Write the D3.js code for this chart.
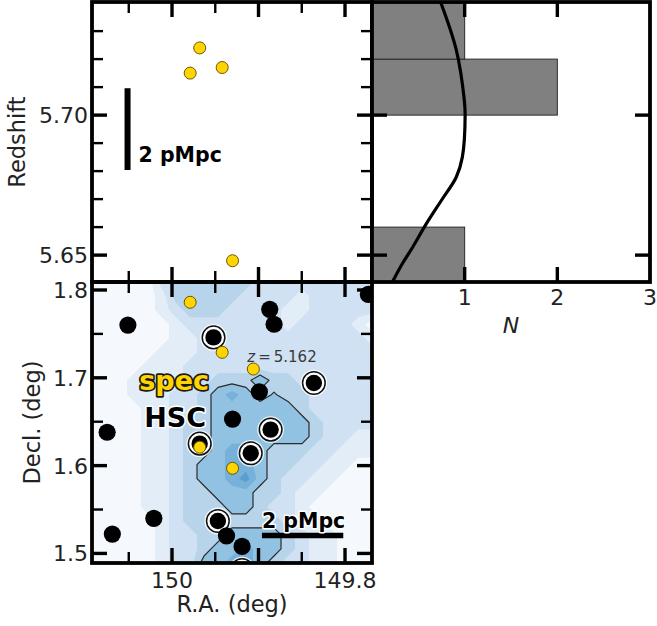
<!DOCTYPE html>
<html>
<head>
<meta charset="utf-8">
<script src="https://cdn.jsdelivr.net/npm/d3@7/dist/d3.min.js"></script>
<style>
  html, body { margin: 0; padding: 0; background: #fff; }
  svg { display: block; }
  text { font-family: "DejaVu Sans", sans-serif; }
</style>
</head>
<body>
<svg id="chart" width="657" height="626"></svg>
<script>
// ---- spectroscopically confirmed LAEs ----
const specRA  = [149.979, 149.968, 149.942, 149.930, 149.906];
const specDec = [1.786, 1.621, 1.729, 1.597, 1.710];
const specZ   = [5.715, 5.724, 5.717, 5.648, 5.162];

// ---- HSC photometric candidates (ring = extra circle marker) ----
const hscRA   = [150.051, 149.952, 149.887, 149.882, 149.773, 149.836, 149.899, 149.930, 149.886,
                 150.075, 149.968, 149.909, 150.021, 150.069, 149.947, 149.937, 149.919, 149.919];
const hscDec  = [1.760, 1.746, 1.778, 1.761, 1.795, 1.694, 1.684, 1.653, 1.641,
                 1.638, 1.625, 1.614, 1.540, 1.522, 1.537, 1.520, 1.508, 1.481];
const hscRing = [0, 1, 0, 0, 0, 1, 0, 0, 1, 0, 1, 1, 0, 0, 1, 0, 0, 1];

// ---- redshift histogram bins and smoothed distribution ----
const zBinEdges = [5.64, 5.66, 5.68, 5.70, 5.72, 5.74];
const curveZ = [5.7404, 5.7232, 5.7054, 5.7000, 5.6850, 5.6779, 5.6696, 5.6614, 5.6529, 5.6471, 5.6404];
const curveN = [0.74, 0.91, 0.996, 1.005, 0.975, 0.91, 0.75, 0.59, 0.44, 0.33, 0.22];

// ---- surface density map (levels on a regular RA/Dec grid, top row = north) ----
const densityRows = [
  [0,0,0,0,0,2,3,3,3,3,3,3,2,2,2,2,2,2,2,2,2],
  [0,0,0,0,0,1,3,3,3,3,3,2,2,2,2,1,2,2,2,2,2],
  [0,0,0,0,0,1,2,3,3,3,2,2,2,2,1,1,2,2,2,2,2],
  [0,0,0,0,0,0,1,2,2,2,2,2,2,2,1,2,2,2,2,1,0],
  [0,0,0,0,0,0,1,1,2,2,2,2,2,2,2,2,2,2,2,2,1],
  [0,0,0,0,0,1,1,1,2,2,2,2,2,2,2,2,2,2,2,2,2],
  [0,0,0,0,1,1,1,2,2,2,2,2,2,2,2,2,2,2,2,2,2],
  [0,0,0,1,1,1,1,2,2,3,3,3,4.4,3,3,2,2,2,2,2,2],
  [0,0,0,1,1,1,2,2,3,4,5,4,3,3.6,3,3,2,2,2,2,2],
  [0,0,0,0,1,1,2,2,3,4,4,4,4,4,4,3,2,2,2,2,2],
  [0,0,0,0,1,1,2,3,3,4,4,4,4,4,4,4,3,2,2,2,2],
  [0,0,0,0,1,1,2,3,3,4,4,4,4,4,4,4,3,2,2,1,1],
  [0,0,0,0,1,1,2,3,3,4,5,5,4,3,3,3,2,2,1,1,1],
  [0,0,0,0,1,1,2,3,4,4,5,5,4,3,3,2,2,1,1,0,0],
  [0,0,0,0,1,1,2,3,4,4,5,6,4,3,2,2,1,1,0,0,0],
  [0,0,0,0,1,1,2,3,3,4,4,4,3,3,2,1,1,0,0,0,0],
  [0,0,0,0,1,1,2,3,3,3,4,4,3,2,2,1,0,0,0,0,0],
  [0,0,0,0,0,1,2,3,3,3,3,3,3,3,2,1,1,0,0,0,0],
  [0,0,0,0,0,1,2,2,3,3,4,4,4,4,3,2,1,1,0,0,0],
  [0,0,0,0,0,1,2,2,3,4,4,5,4,4,3,2,1,1,0,0,0],
  [0,0,0,0,0,1,2,2,4,4,5,5,4,3,2,2,1,1,0,0,0]
];
const densityThresholds = [0.5, 1.5, 2.5, 3.5, 4.5, 5.5];
const levelColors = ["#f5f9fe", "#e2edf8", "#cfe1f2", "#b7d4ea", "#92c2e1", "#77b1d9", "#5b9fd0"];
const outlineLevel = 3.5;

// ---- axis limits and ticks ----
const raLim  = [150.0925, 149.7688];
const decLim = [1.8091, 1.4891];
const zLim   = [5.7404, 5.6404];
const nLim   = [0, 3];
const raMajor = [150.0, 149.9, 149.8], raMinor = [150.05, 149.95, 149.85];
const raLabels = [150.0, 149.8];
const decMajor = [1.5, 1.6, 1.7, 1.8], decMinor = [1.55, 1.65, 1.75];
const zMajor = [5.65, 5.70];
const zMinor = [5.66, 5.67, 5.68, 5.69, 5.71, 5.72, 5.73];
const nMajor = [1, 2], nLabels = [1, 2, 3];

// scale bars (2 proper Mpc)
const barZ = [5.6804, 5.7096], barZRA = 150.0514;
const barRA = [149.896, 149.802], barRADec = 1.5204;

// ---- layout ----
const box = { x0: 92, x1: 372, x2: 650, y0: 2, y1: 282, y2: 563 };
const xRA  = d3.scaleLinear().domain(raLim).range([box.x0, box.x1]);
const yDec = d3.scaleLinear().domain(decLim).range([box.y1, box.y2]);
const yZ   = d3.scaleLinear().domain(zLim).range([box.y0, box.y1]);
const xN   = d3.scaleLinear().domain(nLim).range([box.x1, box.x2]);

const svg = d3.select("#chart");
const defs = svg.append("defs");
function clip(id, x, y, w, h) {
  defs.append("clipPath").attr("id", id).append("rect").attr("x", x).attr("y", y).attr("width", w).attr("height", h);
  return `url(#${id})`;
}
const clipA = clip("clipA", box.x0, box.y0, box.x1 - box.x0, box.y1 - box.y0);
const clipB = clip("clipB", box.x1, box.y0, box.x2 - box.x1, box.y1 - box.y0);
const clipC = clip("clipC", box.x0, box.y1, box.x1 - box.x0, box.y2 - box.y1);

const TICK = "#000";
function vTicks(g, vals, scale, y, dir, len, w) {
  g.selectAll(null).data(vals).join("line")
    .attr("x1", d => scale(d)).attr("x2", d => scale(d))
    .attr("y1", y).attr("y2", y + dir * len)
    .attr("stroke", TICK).attr("stroke-width", w);
}
function hTicks(g, vals, scale, x, dir, len, w) {
  g.selectAll(null).data(vals).join("line")
    .attr("y1", d => scale(d)).attr("y2", d => scale(d))
    .attr("x1", x).attr("x2", x + dir * len)
    .attr("stroke", TICK).attr("stroke-width", w);
}
function frame(x0, y0, x1, y1) {
  svg.append("rect").attr("x", x0).attr("y", y0).attr("width", x1 - x0).attr("height", y1 - y0)
    .attr("fill", "none").attr("stroke", "#000").attr("stroke-width", 3.8);
}
const MAJ = 15, MIN = 11, MAJW = 3.4, MINW = 2.4;

// ================= Panel C: sky map =================
const gC = svg.append("g").attr("clip-path", clipC);
gC.append("rect").attr("x", box.x0).attr("y", box.y1).attr("width", box.x1 - box.x0).attr("height", box.y2 - box.y1)
  .attr("fill", levelColors[0]);

const ny = densityRows.length, nx = densityRows[0].length;
const gRA  = d3.scaleLinear().domain([0.5, nx - 0.5]).range(raLim);
const gDec = d3.scaleLinear().domain([0.5, ny - 0.5]).range(decLim);
const gridProj = d3.geoTransform({ point(x, y) { this.stream.point(xRA(gRA(x)), yDec(gDec(y))); } });
const gridPath = d3.geoPath(gridProj);
const bands = d3.contours().size([nx, ny]).thresholds(densityThresholds)(densityRows.flat());
gC.selectAll(null).data(bands).join("path")
  .attr("d", gridPath)
  .attr("fill", (d, i) => levelColors[i + 1]);
gC.append("path")
  .attr("d", gridPath(bands.find(b => b.value === outlineLevel)))
  .attr("fill", "none").attr("stroke", "#2b2b2b").attr("stroke-width", 1.2).attr("stroke-linejoin", "round");

const hsc = hscRA.map((ra, i) => ({ ra, dec: hscDec[i], ring: hscRing[i] }));
gC.selectAll(null).data(hsc.filter(d => d.ring)).join("circle")
  .attr("cx", d => xRA(d.ra)).attr("cy", d => yDec(d.dec)).attr("r", 12.6)
  .attr("fill", "none").attr("stroke", "#fff").attr("stroke-width", 1.6).attr("opacity", 0.8);
gC.selectAll(null).data(hsc.filter(d => d.ring)).join("circle")
  .attr("cx", d => xRA(d.ra)).attr("cy", d => yDec(d.dec)).attr("r", 11.3)
  .attr("fill", "#fff").attr("stroke", "#111").attr("stroke-width", 1.5);
gC.selectAll(null).data(hsc).join("circle")
  .attr("cx", d => xRA(d.ra)).attr("cy", d => yDec(d.dec)).attr("r", d => d.ring ? 8.2 : 8.6)
  .attr("fill", "#000");

const spec = specRA.map((ra, i) => ({ ra, dec: specDec[i], z: specZ[i] }));
gC.selectAll(null).data(spec).join("circle")
  .attr("cx", d => xRA(d.ra)).attr("cy", d => yDec(d.dec)).attr("r", 6)
  .attr("fill", "#ffd400").attr("stroke", "#6b5700").attr("stroke-width", 1);

// label for the foreground object
const fg = spec.filter(d => d.z < zLim[1]);
const zLab = gC.selectAll(null).data(fg).join("text")
  .attr("x", d => xRA(d.ra) - 6).attr("y", d => yDec(d.dec) - 7)
  .attr("font-family", "DejaVu Serif").attr("font-size", 15).attr("fill", "#3a3a3a");
zLab.append("tspan").attr("font-style", "italic").text("z");
zLab.append("tspan").text(d => "\u2009=\u2009" + d3.format(".3f")(d.z));

// legend words
svg.append("text").attr("x", 209).attr("y", 390).attr("text-anchor", "end")
  .attr("font-size", 27).attr("font-weight", "bold").attr("fill", "#ffd400")
  .attr("stroke", "#1a1a1a").attr("stroke-width", 3.4).attr("paint-order", "stroke").attr("stroke-linejoin", "round")
  .text("spec");
svg.append("text").attr("x", 206).attr("y", 427).attr("text-anchor", "end")
  .attr("font-size", 27).attr("font-weight", "bold").attr("fill", "#000")
  .attr("stroke", "#fff").attr("stroke-width", 3).attr("paint-order", "stroke").attr("stroke-linejoin", "round")
  .text("HSC");

// 2 pMpc scale bar (sky)
svg.append("line").attr("x1", xRA(barRA[0])).attr("x2", xRA(barRA[1]))
  .attr("y1", yDec(barRADec)).attr("y2", yDec(barRADec))
  .attr("stroke", "#000").attr("stroke-width", 5.5);
svg.append("text").attr("x", xRA(barRA[0])).attr("y", yDec(barRADec) - 8)
  .attr("font-size", 20.5).attr("font-weight", "bold").attr("fill", "#000")
  .attr("stroke", "#fff").attr("stroke-width", 3).attr("paint-order", "stroke").attr("stroke-linejoin", "round")
  .text("2 pMpc");

const tC = svg.append("g");
vTicks(tC, raMajor, xRA, box.y1, 1, MAJ, MAJW); vTicks(tC, raMinor, xRA, box.y1, 1, MIN, MINW);
vTicks(tC, raMajor, xRA, box.y2, -1, MAJ, MAJW); vTicks(tC, raMinor, xRA, box.y2, -1, MIN, MINW);
hTicks(tC, decMajor, yDec, box.x0, 1, MAJ, MAJW); hTicks(tC, decMinor, yDec, box.x0, 1, MIN, MINW);
hTicks(tC, decMajor, yDec, box.x1, -1, MAJ, MAJW); hTicks(tC, decMinor, yDec, box.x1, -1, MIN, MINW);
frame(box.x0, box.y1, box.x1, box.y2);

tC.selectAll(null).data(decMajor).join("text")
  .attr("x", 88).attr("y", d => yDec(d)).attr("dy", "0.36em").attr("text-anchor", "end")
  .attr("font-size", 22).attr("fill", "#222").text(d => d3.format(".1f")(d));
tC.selectAll(null).data(raLabels).join("text")
  .attr("x", d => xRA(d)).attr("y", 588).attr("text-anchor", "middle")
  .attr("font-size", 22).attr("fill", "#222").text(d => d === 150 ? "150" : d3.format(".1f")(d));
svg.append("text").attr("x", (box.x0 + box.x1) / 2).attr("y", 612).attr("text-anchor", "middle")
  .attr("font-size", 22.5).attr("fill", "#222").text("R.A. (deg)");
svg.append("text").attr("transform", `translate(40,${(box.y1 + box.y2) / 2}) rotate(-90)`)
  .attr("text-anchor", "middle").attr("font-size", 22.5).attr("fill", "#222").text("Decl. (deg)");

// ================= Panel A: redshift vs R.A. =================
const gA = svg.append("g").attr("clip-path", clipA);
gA.selectAll(null).data(spec.filter(d => d.z >= zLim[1] && d.z <= zLim[0])).join("circle")
  .attr("cx", d => xRA(d.ra)).attr("cy", d => yZ(d.z)).attr("r", 6)
  .attr("fill", "#ffd400").attr("stroke", "#6b5700").attr("stroke-width", 1);
svg.append("line").attr("x1", xRA(barZRA)).attr("x2", xRA(barZRA))
  .attr("y1", yZ(barZ[1])).attr("y2", yZ(barZ[0]))
  .attr("stroke", "#000").attr("stroke-width", 6);
svg.append("text").attr("x", xRA(barZRA) + 11).attr("y", 162)
  .attr("font-size", 20.5).attr("font-weight", "bold").attr("fill", "#000").text("2 pMpc");

const tA = svg.append("g");
vTicks(tA, raMajor, xRA, box.y0, 1, MAJ, MAJW); vTicks(tA, raMinor, xRA, box.y0, 1, MIN, MINW);
vTicks(tA, raMajor, xRA, box.y1, -1, MAJ, MAJW); vTicks(tA, raMinor, xRA, box.y1, -1, MIN, MINW);
hTicks(tA, zMajor, yZ, box.x0, 1, MAJ, MAJW); hTicks(tA, zMinor, yZ, box.x0, 1, MIN, MINW);
hTicks(tA, zMajor, yZ, box.x1, -1, MAJ, MAJW); hTicks(tA, zMinor, yZ, box.x1, -1, MIN, MINW);
tA.selectAll(null).data(zMajor).join("text")
  .attr("x", 88).attr("y", d => yZ(d)).attr("dy", "0.36em").attr("text-anchor", "end")
  .attr("font-size", 22).attr("fill", "#222").text(d => d3.format(".2f")(d));
svg.append("text").attr("transform", `translate(25,${(box.y0 + box.y1) / 2}) rotate(-90)`)
  .attr("text-anchor", "middle").attr("font-size", 22.5).attr("fill", "#222").text("Redshift");
frame(box.x0, box.y0, box.x1, box.y1);

// ================= Panel B: redshift histogram =================
const gB = svg.append("g").attr("clip-path", clipB);
const bins = d3.bin().domain([zBinEdges[0], zBinEdges[zBinEdges.length - 1]])
  .thresholds(zBinEdges.slice(1, -1))(specZ);
gB.selectAll(null).data(bins.filter(b => b.length > 0)).join("rect")
  .attr("x", xN(0)).attr("width", b => xN(b.length) - xN(0))
  .attr("y", b => yZ(b.x1)).attr("height", b => yZ(b.x0) - yZ(b.x1))
  .attr("fill", "#808080").attr("stroke", "#2a2a2a").attr("stroke-width", 1);
gB.append("path")
  .datum(curveZ.map((z, i) => [curveN[i], z]))
  .attr("d", d3.line().x(d => xN(d[0])).y(d => yZ(d[1])).curve(d3.curveCatmullRom))
  .attr("fill", "none").attr("stroke", "#000").attr("stroke-width", 3.2);

const tB = svg.append("g");
vTicks(tB, nMajor, xN, box.y0, 1, MAJ, MAJW);
vTicks(tB, nMajor, xN, box.y1, -1, MAJ, MAJW);
hTicks(tB, zMajor, yZ, box.x1, 1, MAJ, MAJW);
hTicks(tB, zMajor, yZ, box.x2, -1, MAJ, MAJW);
frame(box.x1, box.y0, box.x2, box.y1);
tB.selectAll(null).data(nLabels).join("text")
  .attr("x", d => xN(d)).attr("y", 305).attr("text-anchor", "middle")
  .attr("font-size", 22).attr("fill", "#222").text(d => d);
svg.append("text").attr("x", (box.x1 + box.x2) / 2).attr("y", 333).attr("text-anchor", "middle")
  .attr("font-family", "DejaVu Serif").attr("font-style", "italic")
  .attr("font-size", 22).attr("fill", "#222").text("N");
</script>
</body>
</html>
